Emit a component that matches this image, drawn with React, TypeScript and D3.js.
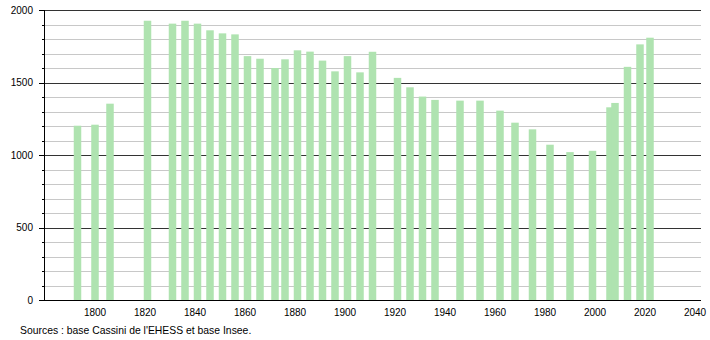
import React from "react";
import * as d3 from "d3";

const years = [1793, 1800, 1806, 1821, 1831, 1836, 1841, 1846, 1851, 1856, 1861, 1866, 1872, 1876, 1881, 1886, 1891, 1896, 1901, 1906, 1911, 1921, 1926, 1931, 1936, 1946, 1954, 1962, 1968, 1975, 1982, 1990, 1999, 2006, 2008, 2013, 2018, 2022];
const population = [1204, 1211, 1356, 1928, 1908, 1928, 1908, 1862, 1841, 1834, 1684, 1666, 1602, 1662, 1724, 1715, 1653, 1579, 1684, 1572, 1714, 1534, 1469, 1405, 1382, 1377, 1377, 1308, 1225, 1179, 1073, 1022, 1031, 1331, 1361, 1610, 1765, 1811];
const xTicks = [1800, 1820, 1840, 1860, 1880, 1900, 1920, 1940, 1960, 1980, 2000, 2020, 2040];
const yMajor = [0, 500, 1000, 1500, 2000];
const yMinor = d3.range(0, 2001, 100);
const sourceText = "Sources : base Cassini de l'EHESS et base Insee.";

export default function App() {
  const W = 710, H = 340;
  const x = d3.scaleLinear().domain([1779.6, 2042.4]).range([44, 701]);
  const y = d3.scaleLinear().domain([0, 2000]).range([300.3, 10.3]);
  const barW = 7.5;
  const font = "'Liberation Sans', Arial, sans-serif";
  return (
    <svg width={W} height={H} style={{ position: "absolute", left: 0, top: 0 }}>
      <rect x={0} y={0} width={W} height={H} fill="#fff" />
      {yMinor.filter(v => v % 500 !== 0).map(v => (
        <line key={"g" + v} x1={44} x2={701} y1={Math.round(y(v)) + 0.5} y2={Math.round(y(v)) + 0.5} stroke="#c8c8c8" strokeWidth={1} />
      ))}
      {yMajor.filter(v => v !== 0).map(v => (
        <line key={"M" + v} x1={44} x2={701} y1={Math.round(y(v)) + 0.5} y2={Math.round(y(v)) + 0.5} stroke="#333" strokeWidth={1} />
      ))}
      {years.map((yr, i) => (
        <rect key={yr} x={x(yr) - barW / 2} y={y(population[i])} width={barW} height={y(0) - y(population[i])} fill="#afe3b0" />
      ))}
      {yMinor.map(v => (
        <line key={"t" + v} x1={v % 500 === 0 ? 39 : 42} x2={44} y1={Math.round(y(v)) + 0.5} y2={Math.round(y(v)) + 0.5} stroke="#000" strokeWidth={1} />
      ))}
      <line x1={44.5} x2={44.5} y1={10} y2={300.8} stroke="#000" strokeWidth={1} />
      <line x1={39} x2={701} y1={300.5} y2={300.5} stroke="#000" strokeWidth={1} />
      {yMajor.map(v => (
        <text key={"yl" + v} x={33} y={y(v)} dy="0.35em" textAnchor="end" fontFamily={font} fontSize={10} fill="#000">{v}</text>
      ))}
      {xTicks.map(t => (
        <text key={"xl" + t} x={x(t)} y={312} dy="0.35em" textAnchor="middle" fontFamily={font} fontSize={10} fill="#000">{t}</text>
      ))}
      <text x={20} y={330} dy="0.35em" fontFamily={font} fontSize={10.4} fill="#000">{sourceText}</text>
    </svg>
  );
}
